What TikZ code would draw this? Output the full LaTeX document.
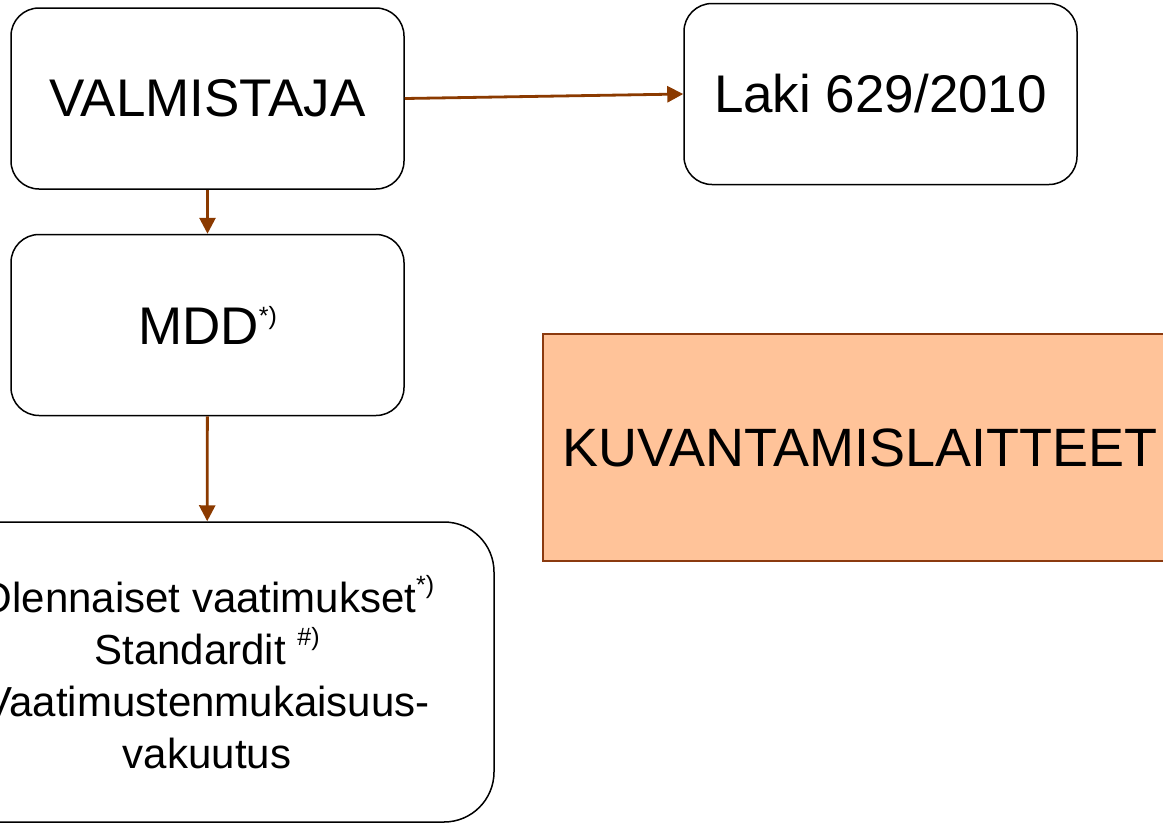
\documentclass[tikz,border=0pt]{standalone}
\usepackage{fontspec}
\setmainfont{Liberation Sans}
\usetikzlibrary{arrows.meta}
\definecolor{arrowbrown}{RGB}{139,58,0}
\definecolor{orangefill}{RGB}{255,195,153}
\definecolor{orangeborder}{RGB}{139,58,15}
\newcommand{\supmark}[2][20pt]{\raisebox{#1}{\fontsize{25}{25}\selectfont #2}}
\begin{document}
\begin{tikzpicture}[x=1pt,y=-1pt,
  box/.style={draw=black, line width=1.5pt, rounded corners=28pt,
    minimum width=393pt, minimum height=181pt, align=center,
    font=\fontsize{53}{63}\selectfont, inner sep=0pt},
  conn/.style={draw=arrowbrown, line width=2.8pt,
    -{Triangle[length=16pt,width=16pt]}}]
\useasboundingbox (0,0) rectangle (1163,823);
\node[box] (valm) at (207.5,98.5) {VALMISTAJA};
\node[box] (laki) at (880.5,94) {Laki 629/2010};
\node[box] (mdd) at (207.5,325) {MDD\supmark{*)}};
\node[box, minimum width=574pt, minimum height=300pt, rounded corners=50pt,
  font=\fontsize{42}{52}\selectfont] (req) at (207,672)
  {Olennaiset vaatimukset\supmark[19pt]{*)}\\
   Standardit \supmark[19pt]{\#)}\\
   Vaatimustenmukaisuus-\\
   vakuutus};
\node[draw=orangeborder, fill=orangefill, line width=1.5pt,
  minimum width=634pt, minimum height=227pt, inner sep=0pt,
  font=\fontsize{54}{64}\selectfont] (kuv) at (860,447.5) {KUVANTAMISLAITTEET};
\draw[conn] (valm.east) -- (laki.west);
\draw[conn] (valm) -- (mdd);
\draw[conn] (mdd) -- (req);
\end{tikzpicture}
\end{document}
